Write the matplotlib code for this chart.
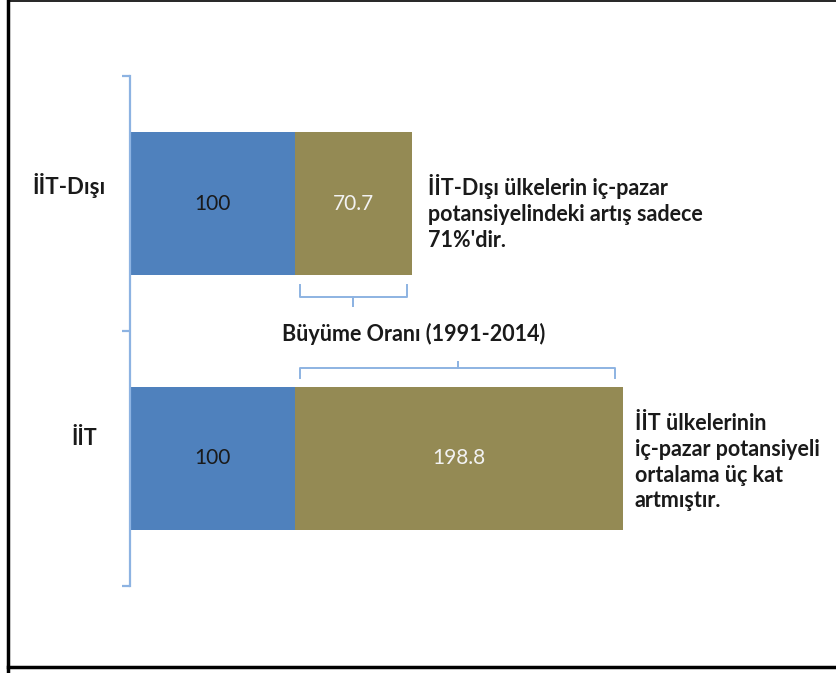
import matplotlib
matplotlib.use("Agg")
import matplotlib.pyplot as plt
from matplotlib.lines import Line2D

plt.rcParams["font.family"] = ["Lato", "DejaVu Sans"]

categories = ["İİT", "İİT-Dışı"]
base = [100, 100]
growth = [198.8, 70.7]
notes = [
    "İİT ülkelerinin\niç-pazar potansiyeli\nortalama üç kat\nartmıştır.",
    "İİT-Dışı ülkelerin iç-pazar\npotansiyelindeki artış sadece\n71%'dir.",
]
brace_label = "Büyüme Oranı (1991-2014)"

BLUE = "#4F81BD"
OLIVE = "#948A54"
AXIS = "#8DB3E2"

W, H = 837, 673
fig = plt.figure(figsize=(W / 100, H / 100), dpi=100)
ax = fig.add_axes([130 / W, 87 / H, 700 / W, 510 / H])

y = list(range(len(categories)))
bh = 0.557
ax.barh(y, base, height=bh, color=BLUE)
ax.barh(y, growth, left=base, height=bh, color=OLIVE)

for i in y:
    ax.text(base[i] / 2, i, f"{base[i]:g}", ha="center", va="center",
            fontsize=15, color="#1a1a1a")
    ax.text(base[i] + growth[i] / 2, i, f"{growth[i]:g}", ha="center",
            va="center", fontsize=15, color="#f2f2f2")

ax.set_xlim(0, 424)
ax.set_ylim(-0.5, 1.5)
ax.set_xticks([])
ax.set_yticks([-0.5, 0.5, 1.5])
ax.set_yticklabels([])
ax.tick_params(axis="y", length=6, width=1.6, color=AXIS, direction="out")
for s in ["top", "right", "bottom"]:
    ax.spines[s].set_visible(False)
ax.spines["left"].set_color(AXIS)
ax.spines["left"].set_linewidth(1.6)

# category labels (sit a bit above bar centres)
ax.text(-15, 1.07, categories[1], ha="right", va="center", fontsize=16,
        fontweight="bold", color="#1a1a1a")
ax.text(-20, 0.08, categories[0], ha="right", va="center", fontsize=15.5,
        fontweight="bold", color="#1a1a1a")

# notes to the right of each bar
ax.text(base[1] + growth[1] + 10, 0.965, notes[1], ha="left", va="center",
        fontsize=15.5, fontweight="bold", color="#1a1a1a", linespacing=1.3)
ax.text(base[0] + growth[0] + 7, -0.015, notes[0], ha="left", va="center",
        fontsize=15.5, fontweight="bold", color="#1a1a1a", linespacing=1.27)


def brace(x0, x1, y_edge, y_mid, y_tip):
    xc = (x0 + x1) / 2
    xs = [x0, x0, xc, xc, xc, x1, x1]
    ys = [y_edge, y_mid, y_mid, y_tip, y_mid, y_mid, y_edge]
    ax.add_line(Line2D(xs, ys, color=AXIS, lw=1.4, solid_joinstyle="round",
                       clip_on=False))


brace(base[1] + 3, base[1] + growth[1] - 3, 0.68, 0.632, 0.598)
brace(base[0] + 3, base[0] + growth[0] - 5, 0.316, 0.355, 0.38)
ax.text(172, 0.49, brace_label, ha="center", va="center", fontsize=15.5,
        fontweight="bold", color="#1a1a1a")

# outer frame
fig.add_artist(Line2D([8 / W, 8 / W], [0.5 / H, 1 - 1 / H], color="black",
                      lw=2.5, transform=fig.transFigure))
fig.add_artist(Line2D([8 / W, 1], [6 / H, 6 / H], color="black",
                      lw=2.5, transform=fig.transFigure))
fig.add_artist(Line2D([8 / W, 1], [1 - 1 / H, 1 - 1 / H], color="black",
                      lw=1.2, transform=fig.transFigure))

fig.savefig("out.png", dpi=100)
